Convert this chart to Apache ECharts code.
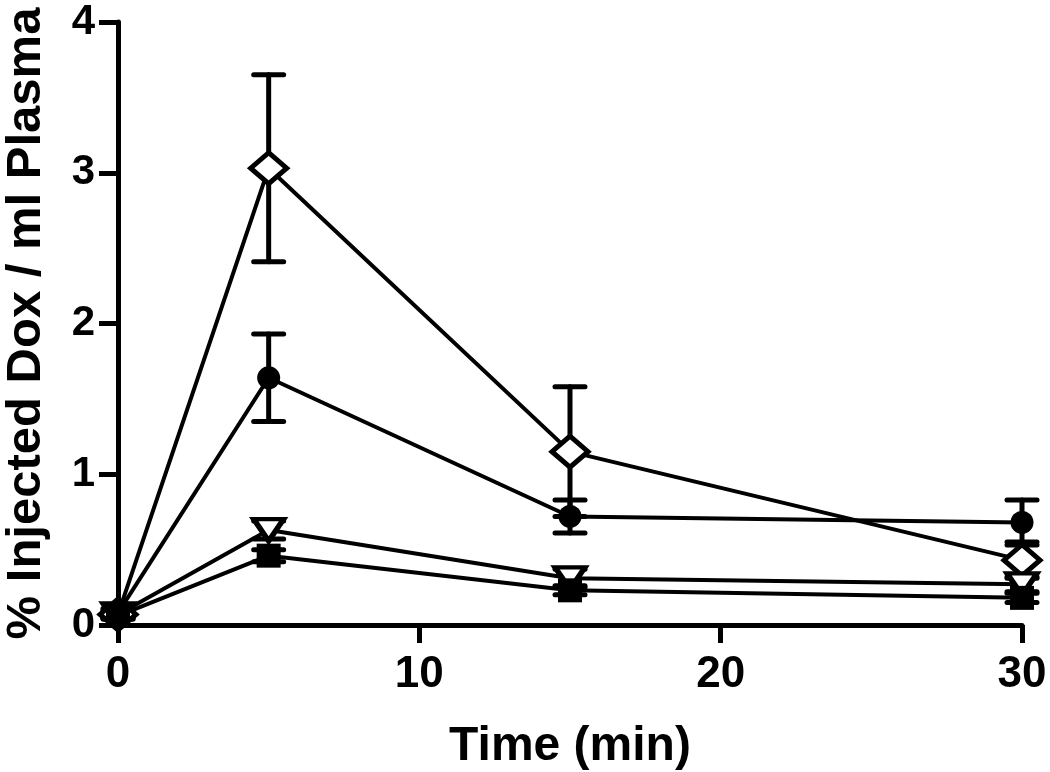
<!DOCTYPE html>
<html><head><meta charset="utf-8">
<script src="https://cdn.jsdelivr.net/npm/echarts@6/dist/echarts.min.js"></script>
<style>html,body{margin:0;padding:0;background:#fff}#c{width:1050px;height:772px}</style>
</head><body><div id="c"></div>
<script>
const times = [0, 5, 15, 30];
const xTicks = [0, 10, 20, 30];
const yTicks = [0, 1, 2, 3, 4];
const diamondMean = [0.07, 3.03, 1.15, 0.43];
const diamondErr  = [0.03, 0.62, 0.43, 0.12];
const circleMean  = [0.08, 1.64, 0.72, 0.68];
const circleErr   = [0.03, 0.29, 0.11, 0.15];
const triMean     = [0.07, 0.63, 0.31, 0.27];
const triErr      = [0.02, 0.06, 0.06, 0.05];
const squareMean  = [0.06, 0.46, 0.23, 0.18];
const squareErr   = [0.02, 0.04, 0.03, 0.03];

const FONT = '"Liberation Sans", Arial, sans-serif';

function pts(mean){ return times.map((t,i)=>[t, mean[i]]); }
function errData(mean, err){ return times.map((t,i)=>[t, mean[i]-err[i], mean[i]+err[i]]); }

function errSeries(mean, err){
  return {
    type: 'custom', z: 1, silent: true,
    data: errData(mean, err),
    renderItem: function(params, api){
      const x = api.value(0);
      const lo = api.coord([x, api.value(1)]);
      const hi = api.coord([x, api.value(2)]);
      const cw = 15;
      const st = {stroke:'#000', lineWidth:5, lineCap:'round'};
      return {type:'group', children:[
        {type:'line', shape:{x1:lo[0],y1:lo[1],x2:hi[0],y2:hi[1]}, style:st},
        {type:'line', shape:{x1:hi[0]-cw,y1:hi[1],x2:hi[0]+cw,y2:hi[1]}, style:st},
        {type:'line', shape:{x1:lo[0]-cw,y1:lo[1],x2:lo[0]+cw,y2:lo[1]}, style:st}
      ]};
    }
  };
}

function lineSeries(name, mean, symbol, size, open, rotate){
  return {
    name: name, type: 'line', z: 3, data: pts(mean),
    symbol: symbol, symbolSize: size, symbolRotate: rotate || 0,
    showAllSymbol: true,
    lineStyle: {color:'#000', width:4},
    itemStyle: open ? {color:'#fff', borderColor:'#000', borderWidth:5}
                    : {color:'#000', borderColor:'#000', borderWidth:0},
    emphasis: {disabled:true}
  };
}

const chart = echarts.init(document.getElementById('c'), null, {renderer:'canvas'});
chart.setOption({
  animation: false,
  backgroundColor: '#fff',
  grid: {left:118, right:28, top:22, bottom:147, containLabel:false, outerBoundsMode:'none'},
  xAxis: {
    type:'value', min:0, max:30, interval:10,
    axisLine:{show:true, onZero:false, lineStyle:{color:'#000', width:5}},
    axisTick:{show:true, length:18, lineStyle:{color:'#000', width:5}},
    splitLine:{show:false},
    axisLabel:{color:'#000', fontFamily:FONT, fontWeight:'bold', fontSize:44, margin:28,
      formatter: v => xTicks.includes(v) ? String(v) : ''},
    name:'Time (min)', nameLocation:'middle', nameGap:98,
    nameTextStyle:{color:'#000', fontFamily:FONT, fontWeight:'bold', fontSize:48}
  },
  yAxis: {
    type:'value', min:0, max:4, interval:1,
    axisLine:{show:true, lineStyle:{color:'#000', width:5}},
    axisTick:{show:true, length:19, lineStyle:{color:'#000', width:5}},
    splitLine:{show:false},
    axisLabel:{color:'#000', fontFamily:FONT, fontWeight:'bold', fontSize:42, margin:23,
      formatter: v => yTicks.includes(v) ? String(v) : ''},
    name:'% Injected Dox / ml Plasma', nameLocation:'middle', nameGap:67, nameRotate:90,
    nameTextStyle:{color:'#000', fontFamily:FONT, fontWeight:'bold', fontSize:49}
  },
  series: [
    errSeries(diamondMean, diamondErr),
    errSeries(circleMean, circleErr),
    errSeries(triMean, triErr),
    errSeries(squareMean, squareErr),
    lineSeries('Diamond', diamondMean, 'diamond', [36, 31], true),
    lineSeries('Circle', circleMean, 'circle', 23, false),
    lineSeries('Triangle', triMean, 'triangle', [30, 22], true, 180),
    lineSeries('Square', squareMean, 'rect', 24, false)
  ]
});
</script></body></html>
